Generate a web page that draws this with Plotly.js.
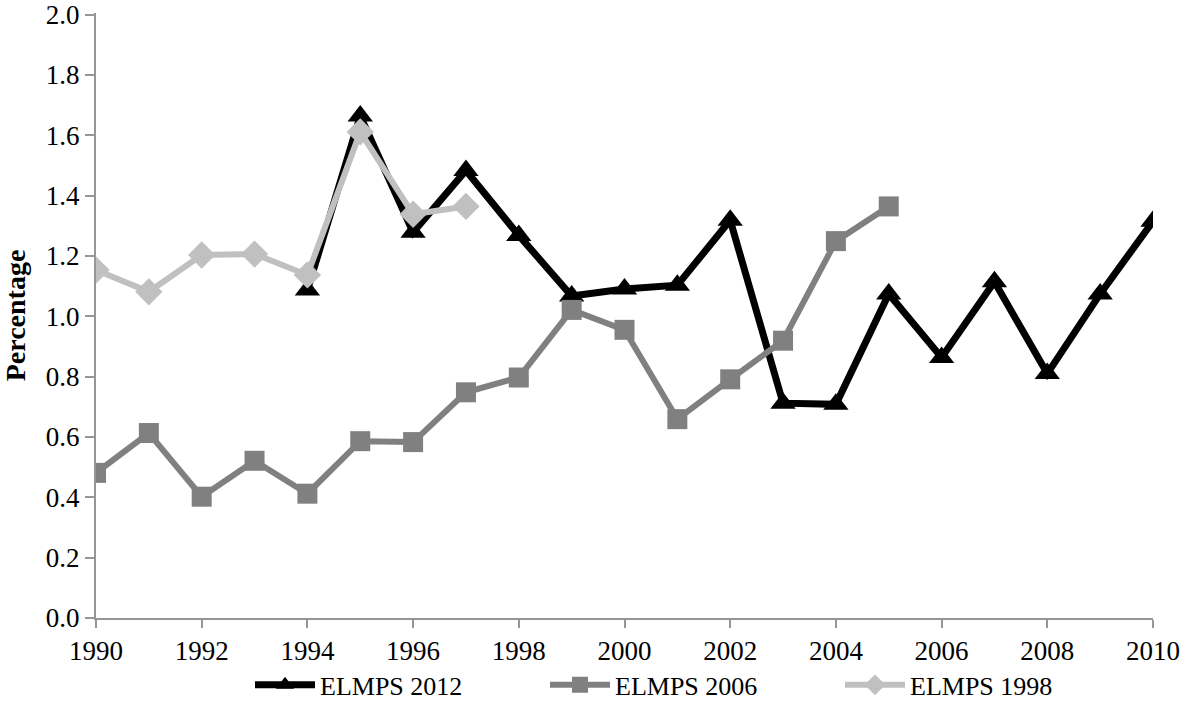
<!DOCTYPE html>
<html>
<head>
<meta charset="utf-8">
<script src="https://cdn.plot.ly/plotly-3.0.1.min.js"></script>
<style>html,body{margin:0;padding:0;background:#fff;}#chart{width:1181px;height:718px;}</style>
</head>
<body>
<div id="chart"></div>
<script>
const years2012 = [1994,1995,1996,1997,1998,1999,2000,2001,2002,2003,2004,2005,2006,2007,2008,2009,2010];
const elmps2012 = [1.087,1.664,1.278,1.483,1.268,1.067,1.090,1.103,1.318,0.712,0.708,1.074,0.863,1.114,0.810,1.074,1.315];
const years2006 = [1990,1991,1992,1993,1994,1995,1996,1997,1998,1999,2000,2001,2002,2003,2004,2005];
const elmps2006 = [0.481,0.613,0.402,0.521,0.412,0.586,0.583,0.748,0.797,1.021,0.955,0.659,0.791,0.919,1.249,1.364];
const years1998 = [1990,1991,1992,1993,1994,1995,1996,1997];
const elmps1998 = [1.153,1.081,1.203,1.206,1.137,1.611,1.338,1.364];
const seriesNames = ["ELMPS 2012","ELMPS 2006","ELMPS 1998"];
const xTicks = [1990,1992,1994,1996,1998,2000,2002,2004,2006,2008,2010];
const yTicks = [0,0.2,0.4,0.6,0.8,1.0,1.2,1.4,1.6,1.8,2.0];

const font = "Liberation Serif";
const fs = 27;
const traces = [
  {x: years2012, y: elmps2012, name: seriesNames[0], mode: "lines+markers",
   line: {color: "#000000", width: 7}, marker: {symbol: "triangle-up", size: 22, color: "#000000"}},
  {x: years2006, y: elmps2006, name: seriesNames[1], mode: "lines+markers",
   line: {color: "#808080", width: 6}, marker: {symbol: "square", size: 20, color: "#808080"}},
  {x: years1998, y: elmps1998, name: seriesNames[2], mode: "lines+markers",
   line: {color: "#c0c0c0", width: 6}, marker: {symbol: "diamond", size: 21, color: "#c0c0c0"}}
];
const layout = {
  width: 1181, height: 718,
  margin: {l: 96, r: 28, t: 12.5, b: 100},
  paper_bgcolor: "#fff", plot_bgcolor: "#fff",
  font: {family: font, size: fs, color: "#000"},
  showlegend: true,
  legend: {orientation: "h", x: 250/1181, xanchor: "left", xref: "container",
           y: 0.046, yanchor: "middle", yref: "container",
           entrywidth: 220, entrywidthmode: "pixels", itemwidth: 60,
           bgcolor: "rgba(0,0,0,0)",
           font: {family: font, size: 26, color: "#000"}, traceorder: "normal"},
  xaxis: {range: [1990, 2010], tickvals: xTicks, ticktext: xTicks.map(String), automargin: false,
          ticklabeloverflow: "allow",
          showgrid: false, zeroline: false, showline: true, linecolor: "#969696", linewidth: 2,
          ticks: "outside", ticklen: 8, tickwidth: 2, tickcolor: "#969696",
          tickfont: {family: font, size: fs, color: "#000"}},
  yaxis: {range: [0, 2.005], tickvals: yTicks, ticktext: yTicks.map(v => v.toFixed(1)), automargin: false,
          ticklabeloverflow: "allow",
          showgrid: false, zeroline: false, showline: true, linecolor: "#969696", linewidth: 2,
          ticks: "outside", ticklen: 9, tickwidth: 2, tickcolor: "#969696",
          tickfont: {family: font, size: fs, color: "#000"},
          title: {text: "<b>Percentage</b>", font: {family: font, size: 28, color: "#000"}, standoff: 18}}
};
Plotly.newPlot("chart", traces, layout, {displayModeBar: false, staticPlot: true});
</script>
</body>
</html>
